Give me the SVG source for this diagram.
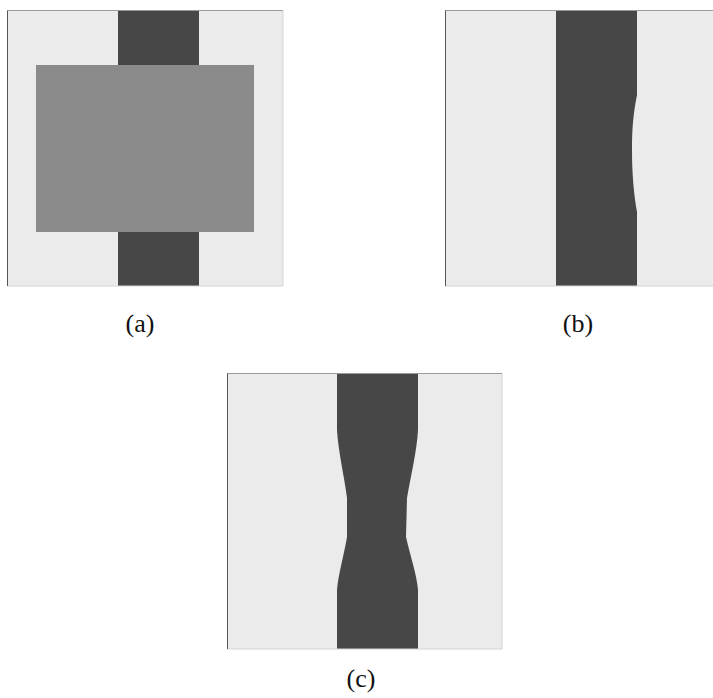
<svg xmlns="http://www.w3.org/2000/svg" width="713" height="698" viewBox="0 0 713 698">
  <style>
    .bg { fill: #ebebeb; }
    .dark { fill: #474747; }
    .mid { fill: #8b8b8b; }
    .edgeL { stroke: #555555; stroke-width: 1; fill: none; }
    .edgeT { stroke: #9a9a9a; stroke-width: 1; fill: none; }
    .edgeRB { stroke: #d4d4d4; stroke-width: 1; fill: none; }
    .lbl { font-family: "Liberation Serif", "DejaVu Serif", serif; font-size: 26px; fill: #111111; text-anchor: middle; }
  </style>
  <rect width="713" height="698" fill="#ffffff"/>

  <g id="panel-a">
    <rect class="bg" x="7.5" y="10.5" width="275.5" height="275.5"/>
    <rect class="dark" x="118" y="10.5" width="81" height="275.5"/>
    <rect class="mid" x="36" y="65" width="218" height="167"/>
    <path class="edgeRB" d="M283,10.5 V286 H7.5"/>
    <path class="edgeT" d="M7.5,10.5 H283"/>
    <path class="edgeL" d="M7.5,10.5 V286"/>
    <text class="lbl" x="140" y="332">(a)</text>
  </g>

  <g id="panel-b">
    <rect class="bg" x="445" y="10.5" width="268" height="275.5"/>
    <path class="dark" d="M556,10.5 H637 V95 C633,115 632,130 632,150 C632,175 634,195 637,212 V286 H556 Z"/>
    <path class="edgeRB" d="M713,286 H445"/>
    <path class="edgeT" d="M445,10.5 H713"/>
    <path class="edgeL" d="M445.5,10.5 V286"/>
    <text class="lbl" x="578" y="332">(b)</text>
  </g>

  <g id="panel-c">
    <rect class="bg" x="227" y="373.5" width="275" height="275.5"/>
    <path class="dark" d="M337,373.5 H418 V430 C417,450 411,475 407,498 L406,537 C410,555 417,575 418,590 V649 H337 V590 C338,575 344,555 347,537 L347,498 C344,475 338,450 337,430 Z"/>
    <path class="edgeRB" d="M502,373.5 V649 H227"/>
    <path class="edgeT" d="M227,373.5 H502"/>
    <path class="edgeL" d="M227.5,373.5 V649"/>
    <text class="lbl" x="361" y="687">(c)</text>
  </g>
</svg>
